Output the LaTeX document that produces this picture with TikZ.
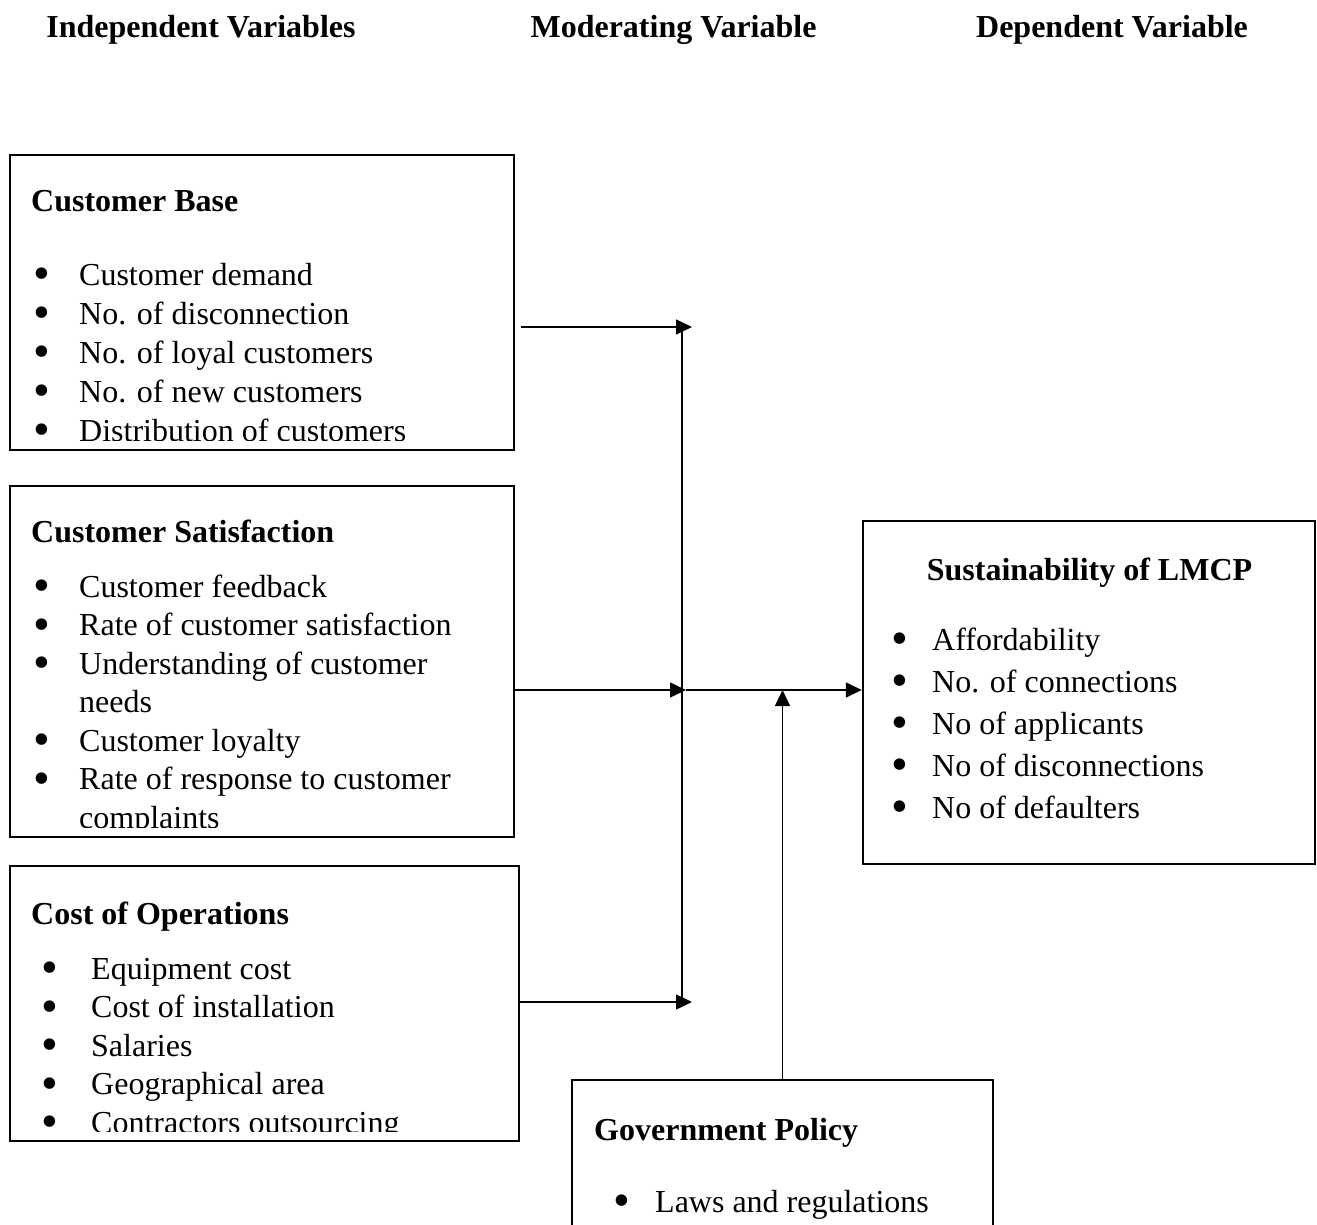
\documentclass[tikz,border=0pt]{standalone}
\usepackage{fontspec}
\usepackage{graphicx}
\setmainfont{Liberation Serif}
\usetikzlibrary{arrows.meta,positioning}
\newcommand{\bulgap}{28.6pt}
\newcommand{\bl}{\llap{\raisebox{-4.5pt}{\scalebox{1.5}{\textbullet}}\hspace{\bulgap}}}
\tikzset{box/.style={draw,line width=2.4pt,inner sep=0pt},
         hd/.style={anchor=base,inner sep=0pt,font=\fontsize{32}{39}\selectfont\bfseries},
         ttl/.style={anchor=base west,inner sep=0pt,font=\fontsize{32}{39}\selectfont\bfseries},
         itm/.style={anchor=base west,inner sep=0pt,font=\fontsize{32}{39}\selectfont},
         arr/.style={line width=1.4pt,-{Triangle[length=16pt,width=15pt]}}}

\begin{document}
\begin{tikzpicture}[x=1pt,y=-1pt]
    \useasboundingbox (0,0) rectangle (1317,1225);
    % headers
    \node[hd] (hind) at (201,38) {Independent Variables};
    \node[hd] (hmod) at (673.5,38) {Moderating Variable};
    \node[hd] (hdep) at (1112,38) {Dependent Variable};
    % boxes
    \node[box,minimum width=504pt,minimum height=295pt] (cbase) at (262,302.5) {};
    \node[box,minimum width=504pt,minimum height=351pt] (csat) at (262,661.5) {};
    \node[box,minimum width=509pt,minimum height=275pt] (cops) at (264.5,1003.5) {};
    \node[box,minimum width=452pt,minimum height=343pt] (sust) at (1089,692.5) {};
    \node[box,minimum width=421pt,minimum height=170pt] (gov) at (782.5,1165) {};
    % customer base
    \node[ttl] (tbase) at (31,212) {Customer Base};
    \begin{scope}
        \clip (10,155) rectangle (514,440);
        \foreach \t [count=\i] in {{\bl Customer demand},{\bl No. of disconnection},{\bl No. of loyal customers},{\bl No. of new customers},{\bl Distribution of customers}}
            \node[itm] (ib\i) at (79,{285+39*(\i-1)}) {\t};
    \end{scope}
    % customer satisfaction
    \node[ttl] (tsat) at (31,542) {Customer Satisfaction};
    \begin{scope}
        \clip (10,486) rectangle (514,827);
        \foreach \t [count=\i] in {{\bl Customer feedback},{\bl Rate of customer satisfaction},{\bl Understanding of customer},{needs},{\bl Customer loyalty},{\bl Rate of response to customer},{complaints}}
            \node[itm] (is\i) at (79,{597+38.5*(\i-1)}) {\t};
    \end{scope}
    % cost of operations
    \node[ttl] (tops) at (31,924) {Cost of Operations};
    \begin{scope}
        \renewcommand{\bulgap}{32.6pt}
        \clip (10,866) rectangle (519,1131);
        \foreach \t [count=\i] in {{\bl Equipment cost},{\bl Cost of installation},{\bl Salaries},{\bl Geographical area},{\bl Contractors outsourcing}}
            \node[itm] (io\i) at (91,{979+38.5*(\i-1)}) {\t};
    \end{scope}
    % sustainability
    \node[hd] (tsust) at (1089.5,580) {Sustainability of LMCP};
    \begin{scope}
        \renewcommand{\bulgap}{23.6pt}
        \foreach \t [count=\i] in {Affordability,No. of connections,No of applicants,No of disconnections,No of defaulters}
            \node[itm] (id\i) at (932,{650+42*(\i-1)}) {\bl\t};
    \end{scope}
    % government policy
    \node[ttl] (tgov) at (594,1140) {Government Policy};
    \begin{scope}
        \renewcommand{\bulgap}{24.6pt}
        \node[itm] (ig1) at (655,1212) {\bl Laws and regulations};
    \end{scope}
    % connectors
    \coordinate (j1) at (692,327);
    \coordinate (j2) at (686,690);
    \coordinate (j3) at (692,1002);
    \coordinate (ttop) at (682,327);
    \coordinate (tbot) at (682,1002);
    \draw[line width=1.4pt] (ttop) -- (tbot);
    \draw[arr] ([xshift=6pt]cbase.east |- j1) -- (j1);
    \draw[arr] (csat.east |- j2) -- (j2);
    \draw[arr] (cops.east |- j3) -- (j3);
    \draw[arr] (j2) -- (sust.west |- j2);
    \draw[arr] (gov.north) -- (gov.north |- j2);
\end{tikzpicture}
\end{document}
